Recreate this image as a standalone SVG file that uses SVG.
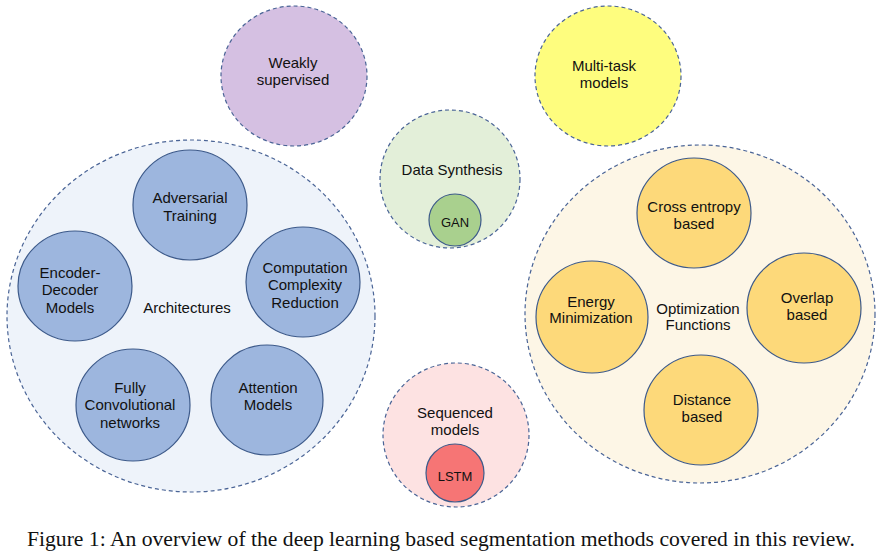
<svg xmlns="http://www.w3.org/2000/svg" width="881" height="551" viewBox="0 0 881 551">
<style>
.grp{stroke:#4a6496;stroke-width:1.2;stroke-dasharray:4 3}
.sub{stroke:#3d5a8a;stroke-width:1.2}
text{font-family:"Liberation Sans",Arial,sans-serif;font-size:15px;fill:#111;text-anchor:middle}
.sm{font-size:13px}
.cap{font-family:"Liberation Serif","Times New Roman",serif;font-size:21.5px;text-anchor:start}
</style>
<rect width="881" height="551" fill="#fff"/>
<g id="weakly">
<ellipse class="grp" cx="294" cy="76" rx="73" ry="70" fill="#d5c0e2"/>
<text x="293" y="68">Weakly</text><text x="293" y="85">supervised</text>
</g>
<g id="multitask">
<ellipse class="grp" cx="608" cy="76" rx="73" ry="70" fill="#fefd7e"/>
<text x="604" y="71">Multi-task</text><text x="604" y="88">models</text>
</g>
<g id="architectures">
<ellipse class="grp" cx="191" cy="316" rx="184" ry="176" fill="#eef3fa"/>
<text x="187" y="313">Architectures</text>
</g>
<g id="adversarial">
<ellipse class="sub" cx="190" cy="205" rx="57" ry="55" fill="#9db6de"/>
<text x="190" y="203">Adversarial</text><text x="190" y="221">Training</text>
</g>
<g id="encoder">
<ellipse class="sub" cx="75" cy="286" rx="57" ry="55" fill="#9db6de"/>
<text x="70" y="278">Encoder-</text><text x="70" y="295">Decoder</text><text x="70" y="313">Models</text>
</g>
<g id="computation">
<ellipse class="sub" cx="303" cy="282" rx="57" ry="55" fill="#9db6de"/>
<text x="305" y="273">Computation</text><text x="305" y="290">Complexity</text><text x="305" y="308">Reduction</text>
</g>
<g id="fcn">
<ellipse class="sub" cx="133" cy="405" rx="57" ry="56" fill="#9db6de"/>
<text x="130" y="393">Fully</text><text x="130" y="410">Convolutional</text><text x="130" y="428">networks</text>
</g>
<g id="attention">
<ellipse class="sub" cx="267" cy="400" rx="56" ry="55" fill="#9db6de"/>
<text x="268" y="393">Attention</text><text x="268" y="410">Models</text>
</g>
<g id="datasynthesis">
<ellipse class="grp" cx="450" cy="179" rx="70" ry="69" fill="#e3efd9"/>
<text x="452" y="175">Data Synthesis</text>
</g>
<g id="gan">
<circle class="sub" cx="455" cy="220" r="26" fill="#a9d08e"/>
<text class="sm" x="455" y="227">GAN</text>
</g>
<g id="sequenced">
<ellipse class="grp" cx="456" cy="435" rx="73" ry="72" fill="#fde2e2"/>
<text x="455" y="418">Sequenced</text><text x="455" y="435">models</text>
</g>
<g id="lstm">
<circle class="sub" cx="455" cy="473" r="29" fill="#f67575"/>
<text class="sm" x="455" y="481">LSTM</text>
</g>
<g id="optimization">
<ellipse class="grp" cx="700" cy="314" rx="175" ry="169" fill="#fdf6e6"/>
<text x="698" y="314">Optimization</text><text x="698" y="330">Functions</text>
</g>
<g id="crossentropy">
<ellipse class="sub" cx="694" cy="213" rx="57" ry="55" fill="#fdd97a"/>
<text x="694" y="212">Cross entropy</text><text x="694" y="229">based</text>
</g>
<g id="energy">
<ellipse class="sub" cx="592" cy="317" rx="56" ry="56" fill="#fdd97a"/>
<text x="591" y="307">Energy</text><text x="591" y="323">Minimization</text>
</g>
<g id="overlap">
<ellipse class="sub" cx="804" cy="308" rx="57" ry="55" fill="#fdd97a"/>
<text x="807" y="303">Overlap</text><text x="807" y="320">based</text>
</g>
<g id="distance">
<ellipse class="sub" cx="701" cy="410" rx="57" ry="55" fill="#fdd97a"/>
<text x="702" y="405">Distance</text><text x="702" y="422">based</text>
</g>
<g id="connectors"></g>
<text class="cap" x="27" y="546" textLength="828" lengthAdjust="spacingAndGlyphs">Figure 1: An overview of the deep learning based segmentation methods covered in this review.</text>
</svg>
